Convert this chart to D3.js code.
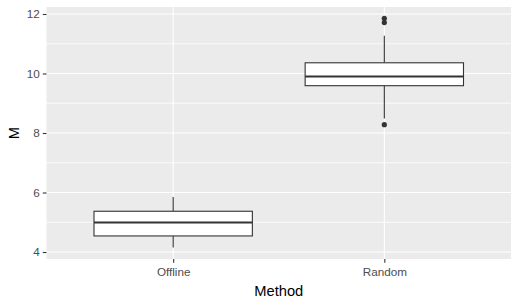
<!DOCTYPE html>
<html>
<head>
<meta charset="utf-8">
<script src="https://cdn.jsdelivr.net/npm/d3@7"></script>
<style>
  body { margin: 0; background: #fff; }
  text { font-family: "Liberation Sans", Arial, sans-serif; }
</style>
</head>
<body>
<svg id="chart"></svg>
<script>
// categories and box statistics
let methods = ["Offline", "Random"]
let whiskerLow = [4.15, 8.49]
let q1 = [4.54, 9.59]
let median = [4.99, 9.90]
let q3 = [5.37, 10.36]
let whiskerHigh = [5.85, 11.27]
let outliers = [[], [11.85, 11.71, 8.28]]
let yTicks = [4, 6, 8, 10, 12]
let yMinor = [5, 7, 9, 11]

let width = 518
let height = 306
let panelLeft = 46.5
let panelRight = 511
let panelTop = 7
let panelBottom = 259

let svg = d3.select("#chart")
svg.attr("width", width).attr("height", height)

let yScale = d3.scaleLinear()
  .domain([3.765, 12.235])
  .range([panelBottom, panelTop])

// discrete axis: 0.6 units of padding on each side like ggplot
let xScale = d3.scalePoint()
  .domain(methods)
  .range([panelLeft, panelRight])
  .padding(0.6)

let step = xScale.step()
let boxW = step * 0.75

// panel
svg.append("rect")
  .attr("x", panelLeft).attr("y", panelTop)
  .attr("width", panelRight - panelLeft).attr("height", panelBottom - panelTop)
  .attr("fill", "#EBEBEB")

svg.selectAll(".minor")
  .data(yMinor)
  .enter()
  .append("line")
  .attr("x1", panelLeft).attr("x2", panelRight)
  .attr("y1", d => yScale(d)).attr("y2", d => yScale(d))
  .attr("stroke", "#fff").attr("stroke-width", 0.8)

svg.selectAll(".major")
  .data(yTicks)
  .enter()
  .append("line")
  .attr("x1", panelLeft).attr("x2", panelRight)
  .attr("y1", d => yScale(d)).attr("y2", d => yScale(d))
  .attr("stroke", "#fff").attr("stroke-width", 1.1)

svg.selectAll(".vgrid")
  .data(methods)
  .enter()
  .append("line")
  .attr("x1", d => xScale(d)).attr("x2", d => xScale(d))
  .attr("y1", panelTop).attr("y2", panelBottom)
  .attr("stroke", "#fff").attr("stroke-width", 1.1)

// boxes
let boxes = svg.selectAll(".box")
  .data(methods)
  .enter()
  .append("g")

boxes.append("line")
  .attr("x1", d => xScale(d)).attr("x2", d => xScale(d))
  .attr("y1", (d, i) => yScale(whiskerHigh[i]))
  .attr("y2", (d, i) => yScale(q3[i]))
  .attr("stroke", "#333").attr("stroke-width", 1.1)

boxes.append("line")
  .attr("x1", d => xScale(d)).attr("x2", d => xScale(d))
  .attr("y1", (d, i) => yScale(q1[i]))
  .attr("y2", (d, i) => yScale(whiskerLow[i]))
  .attr("stroke", "#333").attr("stroke-width", 1.1)

boxes.append("rect")
  .attr("x", d => xScale(d) - boxW / 2)
  .attr("width", boxW)
  .attr("y", (d, i) => yScale(q3[i]))
  .attr("height", (d, i) => yScale(q1[i]) - yScale(q3[i]))
  .attr("fill", "#fff").attr("stroke", "#333").attr("stroke-width", 1.1)

boxes.append("line")
  .attr("x1", d => xScale(d) - boxW / 2).attr("x2", d => xScale(d) + boxW / 2)
  .attr("y1", (d, i) => yScale(median[i])).attr("y2", (d, i) => yScale(median[i]))
  .attr("stroke", "#333").attr("stroke-width", 2.1)

let pts = []
methods.forEach((m, i) => outliers[i].forEach(v => pts.push({ m: m, v: v })))

svg.selectAll(".outlier")
  .data(pts)
  .enter()
  .append("circle")
  .attr("cx", d => xScale(d.m))
  .attr("cy", d => yScale(d.v))
  .attr("r", 2.6)
  .attr("fill", "#333")

// axes
let yAxis = d3.axisLeft(yScale)
  .tickValues(yTicks)
  .tickSize(3.7)
  .tickPadding(3)
svg.append("g")
  .attr("transform", "translate(" + panelLeft + ",0)")
  .call(yAxis)
  .call(g => g.select(".domain").remove())
  .call(g => g.selectAll("line").attr("stroke", "#333").attr("stroke-width", 1.1))
  .call(g => g.selectAll("text").attr("fill", "#4D4D4D").style("font-size", "11.7px")
    .style("font-family", "'Liberation Sans', Arial, sans-serif"))

let xAxis = d3.axisBottom(xScale)
  .tickSize(3.7)
  .tickPadding(5)
svg.append("g")
  .attr("transform", "translate(0," + panelBottom + ")")
  .call(xAxis)
  .call(g => g.select(".domain").remove())
  .call(g => g.selectAll("line").attr("stroke", "#333").attr("stroke-width", 1.1))
  .call(g => g.selectAll("text").attr("fill", "#4D4D4D").style("font-size", "11.7px")
    .style("font-family", "'Liberation Sans', Arial, sans-serif"))

svg.append("text")
  .attr("x", (panelLeft + panelRight) / 2)
  .attr("y", 296)
  .attr("text-anchor", "middle")
  .style("font-size", "14.7px")
  .text("Method")

svg.append("text")
  .attr("transform", "translate(19," + (panelTop + panelBottom) / 2 + ") rotate(-90)")
  .attr("text-anchor", "middle")
  .style("font-size", "14.7px")
  .text("M")
</script>
</body>
</html>
